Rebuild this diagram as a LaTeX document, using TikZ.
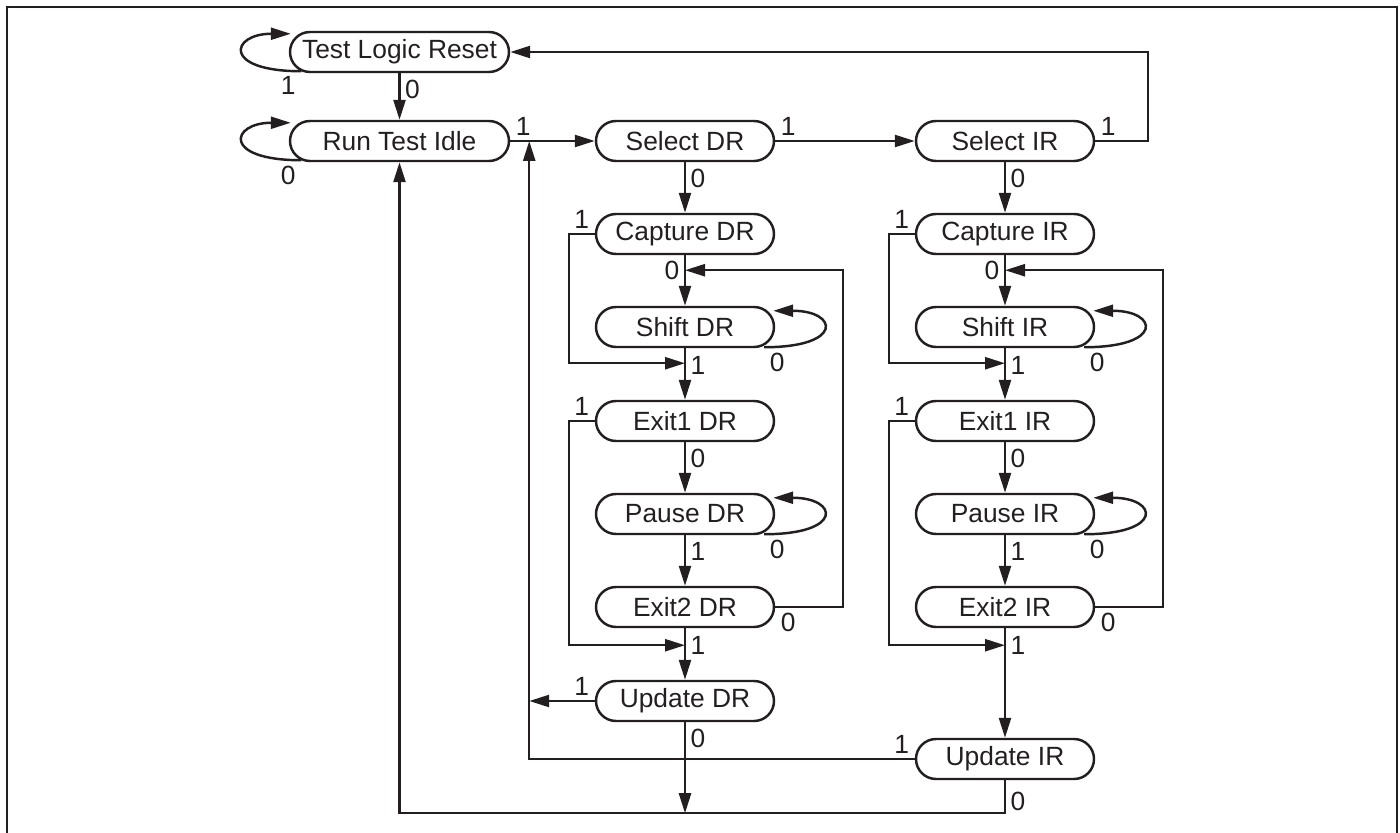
\documentclass[tikz,border=0pt]{standalone}
\usepackage{fontspec}
\setmainfont{Liberation Sans}
\definecolor{ink}{RGB}{35,31,32}
\usetikzlibrary{arrows.meta}

\tikzset{
  state/.style={draw=ink,line width=1.4pt,rounded corners=0.4cm,
                minimum width=3.56cm,minimum height=0.8cm,inner sep=0pt,
                font=\fontsize{15}{18}\selectfont,text=ink},
  widestate/.style={state,minimum width=4.38cm},
  arr/.style={draw=ink,line width=1.4pt,-{Triangle[length=0.4cm,width=0.24cm]}},
  lbl/.style={font=\fontsize{15}{18}\selectfont,text=ink,inner sep=2.5pt},
}

\begin{document}
\begin{tikzpicture}
  \useasboundingbox (0,0) rectangle (28,-16.66);
  \draw[ink,line width=1.2pt] (0.14,-16.8) -- (0.14,-0.14) -- (27.94,-0.14) -- (27.94,-16.8);

  \node[widestate] (tlr) at (7.99,-1.04) {Test Logic Reset};
  \node[widestate] (rti) at (7.99,-2.82) {Run Test Idle};
  \node[state] (sdr)  at (13.7,-2.82)  {Select DR};
  \node[state] (cdr)  at (13.7,-4.68)  {Capture DR};
  \node[state] (shdr) at (13.7,-6.54)  {Shift DR};
  \node[state] (e1dr) at (13.7,-8.42)  {Exit1 DR};
  \node[state] (pdr)  at (13.7,-10.28) {Pause DR};
  \node[state] (e2dr) at (13.7,-12.14) {Exit2 DR};
  \node[state] (udr)  at (13.7,-14.02) {Update DR};
  \node[state] (sir)  at (20.1,-2.82)  {Select IR};
  \node[state] (cir)  at (20.1,-4.68)  {Capture IR};
  \node[state] (shir) at (20.1,-6.54)  {Shift IR};
  \node[state] (e1ir) at (20.1,-8.42)  {Exit1 IR};
  \node[state] (pir)  at (20.1,-10.28) {Pause IR};
  \node[state] (e2ir) at (20.1,-12.14) {Exit2 IR};
  \node[state] (uir)  at (20.1,-15.18) {Update IR};

  \coordinate (jn)  at ([xshift=0.38cm]rti.east);
  \coordinate (bot) at ([yshift=-0.66cm]uir.south);

  % reset and idle
  \draw[arr] (tlr) -- node[lbl,right,pos=0.35]{0} (rti);
  \draw[arr] ([xshift=0.25cm,yshift=0.04cm]tlr.south west) node[lbl,below left]{1}
    .. controls +(-1.6,0) and +(-1.2,0) .. ([xshift=0.04cm,yshift=-0.06cm]tlr.north west);
  \draw[arr] ([xshift=0.25cm,yshift=0.04cm]rti.south west) node[lbl,below left]{0}
    .. controls +(-1.6,0) and +(-1.2,0) .. ([xshift=0.04cm,yshift=-0.06cm]rti.north west);
  \draw[arr] (rti.east) node[lbl,above right]{1} -- (sdr.west);
  \draw[arr] (sdr.east) node[lbl,above right]{1} -- (sir.west);
  \draw[arr] (sir.east) node[lbl,above right]{1} -- ++(1.06,0) |- (tlr.east);

  % DR column
  \draw[arr] (sdr) -- node[lbl,right,pos=0.32]{0} (cdr);
  \draw[arr] (cdr) -- node[lbl,left,pos=0.3]{0} (shdr);
  \draw[arr] (shdr) -- node[lbl,right,pos=0.33]{1} (e1dr);
  \draw[arr] (e1dr) -- node[lbl,right,pos=0.32]{0} (pdr);
  \draw[arr] (pdr) -- node[lbl,right,pos=0.32]{1} (e2dr);
  \draw[arr] (e2dr) -- node[lbl,right,pos=0.33]{1} (udr);
  \draw[arr] (cdr.west) node[lbl,above left]{1} -- ++(-0.52,0) |- ([yshift=-0.3cm]shdr.south);
  \draw[arr] (e1dr.west) node[lbl,above left]{1} -- ++(-0.52,0) |- ([yshift=-0.34cm]e2dr.south);
  \draw[arr] (e2dr.east) node[lbl,below right]{0} -- ++(1.36,0) |- ([yshift=-0.3cm]cdr.south);
  \draw[arr] ([xshift=-0.22cm,yshift=0.02cm]shdr.south east) node[lbl,below right]{0}
    .. controls +(1.6,0) and +(1.3,0) .. ([xshift=-0.04cm,yshift=-0.1cm]shdr.north east);
  \draw[arr] ([xshift=-0.22cm,yshift=0.02cm]pdr.south east) node[lbl,below right]{0}
    .. controls +(1.6,0) and +(1.3,0) .. ([xshift=-0.04cm,yshift=-0.1cm]pdr.north east);
  \draw[arr] (udr.west) node[lbl,above left]{1} -- (udr.west -| jn);
  \draw[arr] (udr.south) -- node[lbl,right,pos=0.18]{0} (udr.south |- bot);

  % IR column
  \draw[arr] (sir) -- node[lbl,right,pos=0.32]{0} (cir);
  \draw[arr] (cir) -- node[lbl,left,pos=0.3]{0} (shir);
  \draw[arr] (shir) -- node[lbl,right,pos=0.33]{1} (e1ir);
  \draw[arr] (e1ir) -- node[lbl,right,pos=0.32]{0} (pir);
  \draw[arr] (pir) -- node[lbl,right,pos=0.32]{1} (e2ir);
  \draw[arr] (e2ir) -- node[lbl,right,pos=0.16]{1} (uir);
  \draw[arr] (cir.west) node[lbl,above left]{1} -- ++(-0.52,0) |- ([yshift=-0.3cm]shir.south);
  \draw[arr] (e1ir.west) node[lbl,above left]{1} -- ++(-0.52,0) |- ([yshift=-0.34cm]e2ir.south);
  \draw[arr] (e2ir.east) node[lbl,below right]{0} -- ++(1.36,0) |- ([yshift=-0.3cm]cir.south);
  \draw[arr] ([xshift=-0.22cm,yshift=0.02cm]shir.south east) node[lbl,below right]{0}
    .. controls +(1.6,0) and +(1.3,0) .. ([xshift=-0.04cm,yshift=-0.1cm]shir.north east);
  \draw[arr] ([xshift=-0.22cm,yshift=0.02cm]pir.south east) node[lbl,below right]{0}
    .. controls +(1.6,0) and +(1.3,0) .. ([xshift=-0.04cm,yshift=-0.1cm]pir.north east);
  \draw[arr] (uir.west) node[lbl,above left]{1} -| (jn);
  \draw[arr] (uir.south) -- node[lbl,right,pos=0.64]{0} (bot) -| (rti.south);
\end{tikzpicture}
\end{document}
